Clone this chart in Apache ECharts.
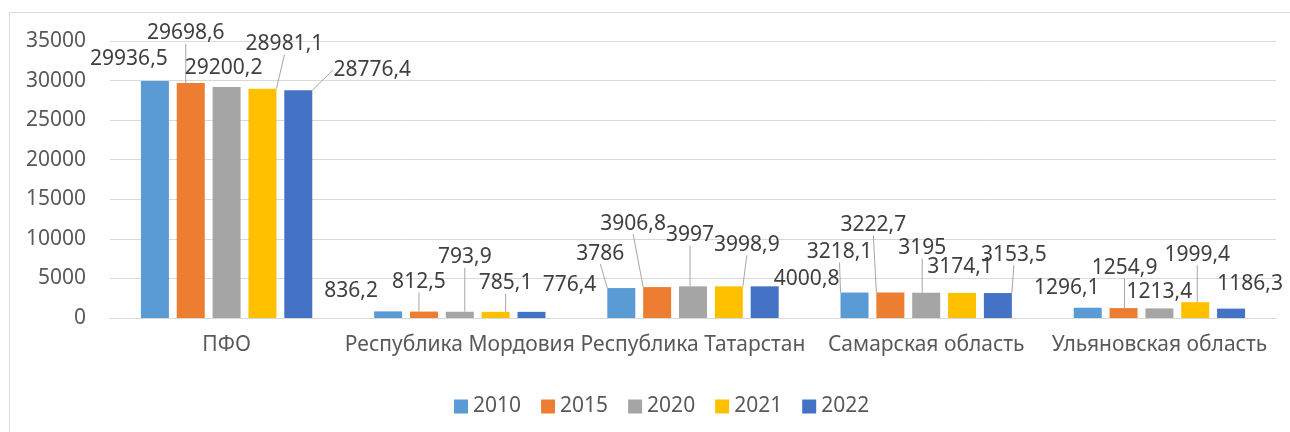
<!DOCTYPE html>
<html>
<head>
<meta charset="utf-8">
<script src="https://cdn.jsdelivr.net/npm/echarts@6/dist/echarts.min.js"></script>
<style>
  html, body { margin: 0; padding: 0; background: #fff; }
  #main { width: 1290px; height: 432px; }
</style>
</head>
<body>
<div id="main"></div>
<script>
// данные
var regions = ['ПФО', 'Республика Мордовия', 'Республика Татарстан', 'Самарская область', 'Ульяновская область'];
var years = ['2010', '2015', '2020', '2021', '2022'];
var v2010 = [29936.5, 836.2, 3786, 3218.1, 1296.1];
var v2015 = [29698.6, 812.5, 3906.8, 3222.7, 1254.9];
var v2020 = [29200.2, 793.9, 3997, 3195, 1213.4];
var v2021 = [28981.1, 785.1, 3998.9, 3174.1, 1999.4];
var v2022 = [28776.4, 776.4, 4000.8, 3153.5, 1186.3];
var yTicks = [0, 5000, 10000, 15000, 20000, 25000, 30000, 35000];

var values = [v2010, v2015, v2020, v2021, v2022];
var colors = ['#5B9BD5', '#ED7D31', '#A5A5A5', '#FFC000', '#4472C4'];

// сдвиг подписей как в Excel [серия][категория] = [dx, dy]
var labelShift = [
	[[-26, -7], [-37, -5], [-21, -19], [-15, -25], [-21, -4]],
	[[-5, -34], [-5, -14], [-24, -48], [-17, -52], [1, -25]],
	[[-3, -3], [5, -39], [-3, -36], [-4, -29], [0, -1]],
	[[22, -29], [10, -13], [18, -26], [-2, -10], [2, -32]],
	[[74, -5], [38, -11], [42, 8], [16, -23], [19, -9]]
];
// где видна выноска
var showLine = [
	[0, 0, 1, 1, 0],
	[1, 1, 1, 1, 1],
	[0, 1, 1, 1, 0],
	[1, 1, 1, 0, 1],
	[1, 0, 0, 1, 0]
];

var FONT = 'Noto Sans';

function fmt(v) {
	return String(v).replace('.', ',');
}

var series = [];
for (var s = 0; s < years.length; s++) {
	var items = [];
	for (var i = 0; i < regions.length; i++) {
		items.push({
			value: values[s][i],
			labelLine: { show: !!showLine[s][i] }
		});
	}
	series.push({
		name: years[s],
		type: 'bar',
		barWidth: 28,
		barGap: '28%',
		itemStyle: { color: colors[s] },
		label: {
			show: true,
			position: 'top',
			distance: 5,
			fontFamily: FONT,
			fontSize: 21,
			color: '#404040',
			formatter: function (p) { return fmt(p.value); }
		},
		labelLine: {
			show: true,
			lineStyle: { color: '#A6A6A6', width: 1 }
		},
		labelLayout: (function (si) {
			return function (p) {
				var d = labelShift[si][p.dataIndex];
				return { dx: d[0], dy: d[1] };
			};
		})(s),
		emphasis: { disabled: true },
		data: items
	});
}

var myChart = echarts.init(document.getElementById('main'));
myChart.setOption({
	animation: false,
	textStyle: { fontFamily: FONT },
	graphic: [{
		type: 'rect',
		shape: { x: 9.5, y: 12.5, width: 1400, height: 600 },
		style: { fill: 'none', stroke: '#D9D9D9', lineWidth: 1 },
		silent: true
	}],
	grid: { left: 110, right: 14, top: 41, bottom: 114 },
	legend: {
		data: years,
		left: 449,
		top: 391,
		icon: 'rect',
		itemWidth: 14,
		itemHeight: 14,
		itemGap: 20,
		textStyle: { fontSize: 21, color: '#595959', fontFamily: FONT }
	},
	xAxis: {
		type: 'category',
		data: regions,
		axisLine: { lineStyle: { color: '#D9D9D9' } },
		axisTick: { show: false },
		axisLabel: { interval: 0, margin: 17, fontSize: 21, color: '#595959', fontFamily: FONT }
	},
	yAxis: {
		type: 'value',
		min: yTicks[0],
		max: yTicks[yTicks.length - 1],
		interval: yTicks[1] - yTicks[0],
		axisLine: { show: false },
		axisTick: { show: false },
		splitLine: { lineStyle: { color: '#D9D9D9' } },
		axisLabel: {
			margin: 24, fontSize: 21, color: '#595959', fontFamily: FONT,
			formatter: function (v) { return String(v); }
		}
	},
	series: series
});
</script>
</body>
</html>
